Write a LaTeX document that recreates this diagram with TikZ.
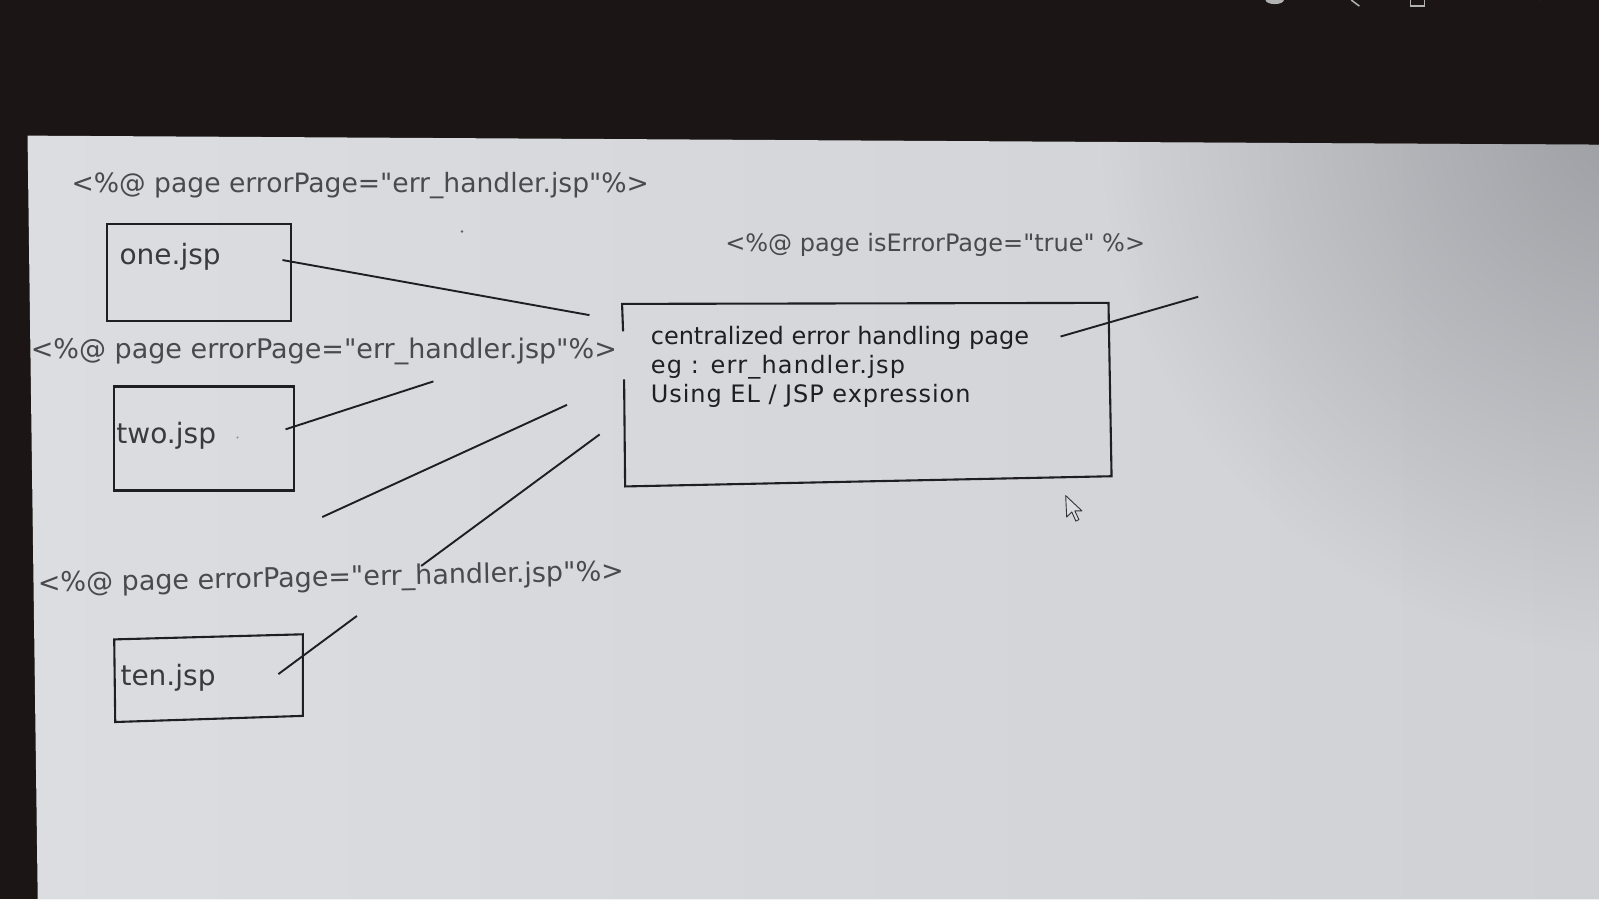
\documentclass[tikz,border=0pt]{standalone}
\usepackage{fontspec}
\setmainfont{DejaVu Sans}[Ligatures=TeXOff]
\usetikzlibrary{fit,fadings}
\definecolor{bezel}{HTML}{1B1615}
\definecolor{screenL}{HTML}{DCDDE0}
\definecolor{screenR}{HTML}{CFD1D5}
\definecolor{screenTR}{HTML}{9C9EA3}
\definecolor{ink}{HTML}{1F1F22}
\definecolor{dirtext}{HTML}{4A4A4D}
\definecolor{boxtext}{HTML}{3A3A3D}
\tikzfading[name=cornerfade, inner color=transparent!0, outer color=transparent!100]
\tikzset{
  box/.style={draw=ink, line width=2.1pt, inner sep=0pt},
  conn/.style={draw=ink, line width=1.9pt},
  directive/.style={anchor=west, inner sep=0pt, text=dirtext, font=\fontsize{26.6}{30}\selectfont},
  label/.style={anchor=west, inner sep=0pt, text=boxtext, font=\fontsize{28}{30}\selectfont},
  inner/.style={anchor=west, inner sep=0pt, text=ink, font=\fontsize{24}{29}\selectfont},
}
\begin{document}
\begin{tikzpicture}[x=1.0198pt,y=-1.0198pt]
\useasboundingbox (0,0) rectangle (1568,882);
% screen photo background
\fill[bezel] (0,0) rectangle (1568,882);
\begin{scope}
  \clip (27,133) -- (1568,142) -- (1568,882) -- (37,882) -- cycle;
  \shade[left color=screenL, right color=screenR] (20,130) rectangle (1568,882);
  \fill[screenTR, path fading=cornerfade] (1600,120) circle (520);
\end{scope}
% faint icons on the bezel
\draw[gray!70, line width=1.5pt] (1510,0) arc (180:360:10);
\draw[gray!60, line width=1.5pt] (1383,0) -- (1383,6) -- (1397,6) -- (1397,0);
\draw[gray!60, line width=1.5pt] (1325,0) -- (1333,6);
\fill[gray!60] (1250,0) ellipse (9 and 4);

% directives
\node[directive] (d1) at (70,182) {<\%@ page errorPage="err\_handler.jsp"\%>};
\node[directive, font=\fontsize{27}{30}\selectfont] (d2) at (30,345) {<\%@ page errorPage="err\_handler.jsp"\%>};
\node[directive, font=\fontsize{27}{30}\selectfont, rotate=1.2] (d3) at (37,574) {<\%@ page errorPage="err\_handler.jsp"\%>};
\node[directive, font=\fontsize{24}{28}\selectfont] (d4) at (711,240) {<\%@ page isErrorPage="true" \%>};

% jsp boxes
\node[box, fit={(105,220) (285,315)}] (one) {};
\node[label] (onel) at (117,252) {one.jsp};
\node[box, fit={(112,379) (288,481)}] (two) {};
\node[label] (twol) at (114,427) {two.jsp};
\draw[box] (112,627) -- (297,622) -- (297,702) -- (113,708) -- cycle;
\node[inner sep=0pt, fit={(112,622) (297,708)}] (ten) {};
\node[label] (tenl) at (118,665) {ten.jsp};

% central box (left side interrupted)
\coordinate (c1) at (611,325);
\coordinate (c2) at (610,298);
\coordinate (c3) at (1087,297);
\coordinate (c4) at (1090,467);
\coordinate (c5) at (613,477);
\coordinate (c6) at (612,372);
\draw[box, line join=miter] (c1) -- (c2) -- (c3) -- (c4) -- (c5) -- (c6);
\node[inner] (t1) at (638,331) {centralized error handling page};
\node[inner, font=\fontsize{24}{29}\selectfont\addfontfeature{LetterSpace=5}] (t2) at (638,360) {eg : err\_handler.jsp};
\node[inner, font=\fontsize{24}{29}\selectfont\addfontfeature{LetterSpace=4}] (t3) at (638,388) {Using EL / JSP expression};

% connector end points
\coordinate (a1) at (277,255);  \coordinate (b1) at (578,309);
\coordinate (a2) at (280,421);  \coordinate (b2) at (425,374);
\coordinate (a3) at (316,507);  \coordinate (b3) at (556,397);
\coordinate (a4) at (413,555);  \coordinate (b4) at (588,426);
\coordinate (a5) at (273,661);  \coordinate (b5) at (350,604);
\coordinate (a6) at (1040,330); \coordinate (b6) at (1175,291);
\draw[conn] (a1) -- (b1);
\draw[conn] (a2) -- (b2);
\draw[conn] (a3) -- (b3);
\draw[conn] (a4) -- (b4);
\draw[conn] (a5) -- (b5);
\draw[conn] (a6) -- (b6);

% small specks
\fill[ink!70] (453,227) circle (1.3);
\fill[ink!50] (233,429) circle (1.1);

% mouse cursor
\draw[gray!40!black, fill=screenL, line width=0.9pt, line join=round]
  (1045,486) -- (1046,507) -- (1051,502) -- (1055,511) -- (1058,509.5)
  -- (1054,501) -- (1061,501) -- cycle;
\end{tikzpicture}
\end{document}
